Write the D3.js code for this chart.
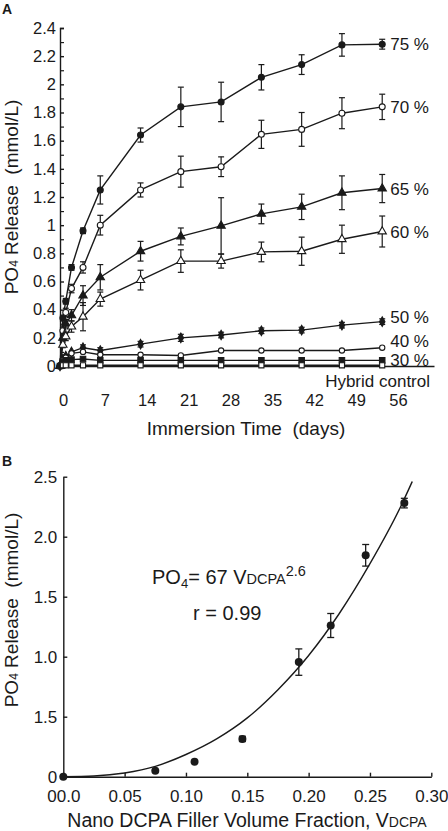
<!DOCTYPE html>
<html><head><meta charset="utf-8">
<script src="https://cdn.jsdelivr.net/npm/d3@7"></script>
<style>
body{margin:0;background:#fff}
text{font-family:"Liberation Sans",Arial,Helvetica,sans-serif;fill:#1a1a1a}
</style>
</head><body>
<svg id="c" width="448" height="831"></svg>
<script>
// ---------- Panel A data ----------
const days = [0, 0.5, 1, 2, 4, 7, 14, 21, 28, 35, 42, 49, 56];
const seriesNames = ["75 %", "70 %", "65 %", "60 %", "50 %", "40 %", "30 %", "Hybrid control"];
const v75 = [0, 0.34, 0.46, 0.70, 0.96, 1.25, 1.64, 1.84, 1.875, 2.05, 2.14, 2.28, 2.285];
const e75 = [0, 0.02, 0.02, 0.02, 0.02, 0.10, 0.05, 0.14, 0.14, 0.09, 0.07, 0.08, 0.035];
const v70 = [0, 0.25, 0.38, 0.55, 0.70, 1.00, 1.25, 1.38, 1.415, 1.645, 1.68, 1.795, 1.84];
const e70 = [0, 0.02, 0.03, 0.03, 0.04, 0.07, 0.05, 0.11, 0.07, 0.10, 0.12, 0.11, 0.09];
const v65 = [0, 0.20, 0.30, 0.36, 0.50, 0.63, 0.815, 0.92, 0.995, 1.08, 1.13, 1.23, 1.26];
const e65 = [0, 0.02, 0.03, 0.04, 0.07, 0.09, 0.07, 0.06, 0.20, 0.07, 0.09, 0.12, 0.10];
const v60 = [0, 0.15, 0.21, 0.28, 0.35, 0.475, 0.61, 0.745, 0.745, 0.81, 0.815, 0.90, 0.955];
const e60 = [0, 0.02, 0.03, 0.04, 0.10, 0.05, 0.07, 0.08, 0.05, 0.07, 0.10, 0.10, 0.11];
const v50 = [0, 0.05, 0.07, 0.10, 0.13, 0.11, 0.155, 0.20, 0.22, 0.25, 0.255, 0.29, 0.315];
const e50 = [0, 0.01, 0.01, 0.015, 0.02, 0.02, 0.02, 0.025, 0.02, 0.02, 0.02, 0.02, 0.02];
const v40 = [0, 0.04, 0.06, 0.09, 0.10, 0.08, 0.08, 0.075, 0.11, 0.11, 0.11, 0.11, 0.13];
const e40 = [0, 0.01, 0.01, 0.01, 0.01, 0.01, 0.01, 0.01, 0.01, 0.01, 0.01, 0.01, 0.01];
const v30 = [0, 0.03, 0.04, 0.045, 0.05, 0.04, 0.04, 0.04, 0.04, 0.04, 0.04, 0.04, 0.04];
const e30 = [0, 0.01, 0.01, 0.01, 0.01, 0.01, 0.01, 0.01, 0.01, 0.01, 0.01, 0.01, 0.01];
const vHC = [0, 0.005, 0.005, 0.005, 0.005, 0.005, 0.005, 0.005, 0.005, 0.005, 0.005, 0.005, 0.005];
const eHC = [0, 0, 0, 0, 0, 0, 0, 0, 0, 0, 0, 0, 0];
const labelValsA = [2.285, 1.84, 1.257, 0.954, 0.35, 0.18, 0.043, -0.11];
const yTickValsA = [0, 0.2, 0.4, 0.6, 0.8, 1, 1.2, 1.4, 1.6, 1.8, 2, 2.2, 2.4];
const yTickLabsA = ["0", "0.2", "0.4", "0.6", "0.8", "1", "1.2", "1.4", "1.6", "1.8", "2", "2.2", "2.4"];
const xTickValsA = [0, 7, 14, 21, 28, 35, 42, 49, 56];

// ---------- Panel B data ----------
const fracB = [0, 0.075, 0.107, 0.146, 0.192, 0.218, 0.2465, 0.278];
const relB = [0, 0.05, 0.125, 0.315, 0.955, 1.26, 1.845, 2.28];
const errB = [0, 0, 0, 0.022, 0.11, 0.10, 0.09, 0.04];
// fitted curve as drawn in the figure
const curveV = [0, 0.025, 0.05, 0.075, 0.10, 0.125, 0.15, 0.175, 0.20, 0.225, 0.25, 0.275, 0.2845];
const curveP = [0, 0.006, 0.031, 0.086, 0.185, 0.315, 0.49, 0.725, 1.01, 1.36, 1.775, 2.25, 2.46];
const yTickValsB = [0, 0.5, 1, 1.5, 2, 2.5];
const yTickLabsB = ["0", "1.5", "1.0", "1.5", "2.0", "2.5"];
const xTickValsB = [0, 0.05, 0.10, 0.15, 0.20, 0.25, 0.30];
const xTickLabsB = ["00.0", "0.05", "0.10", "0.15", "0.20", "0.25", "0.30"];

const svg = d3.select("#c");
const INK = "#1a1a1a";
const NB = "\u00a0";

// ================= PANEL A =================
const xA = d3.scaleLinear().domain([0, 65]).range([60, 434]);
const xLabA = d3.scaleLinear().domain([0, 56]).range([63, 398]);
const yA = d3.scaleLinear().domain([0, 2.4]).range([366, 28]);
const gA = svg.append("g");

svg.append("text").attr("x", 2).attr("y", 14).attr("font-weight", "bold")
  .attr("font-size", 14).text("A");

// y axis
const yAxA = gA.append("g").attr("transform", `translate(${xA(0)},0)`)
  .call(d3.axisLeft(yA).tickValues(yTickValsA).tickSize(-4).tickPadding(4)
    .tickFormat((d, i) => yTickLabsA[i]));
yAxA.selectAll("text").attr("font-size", 16.5).attr("font-family", null).attr("fill", INK);
yAxA.selectAll("line,path").attr("stroke", INK).attr("stroke-width", 1.4);
const minorA = d3.range(0.1, 2.4, 0.2);
gA.append("g").attr("transform", `translate(${xA(0)},0)`)
  .call(d3.axisLeft(yA).tickValues(minorA).tickSize(-4).tickFormat(""))
  .call(g => g.select(".domain").remove())
  .selectAll("line").attr("stroke", INK).attr("stroke-width", 1.2);

// x axis baseline
gA.append("g").attr("transform", `translate(0,${yA(0)})`)
  .call(d3.axisBottom(xA).tickValues([]).tickSizeOuter(0))
  .select(".domain").attr("stroke", INK).attr("stroke-width", 1.4);
// x tick labels
const xAxA = gA.append("g").attr("transform", `translate(0,${yA(0) + 28})`)
  .call(d3.axisBottom(xLabA).tickValues(xTickValsA).tickSize(0).tickPadding(0));
xAxA.select(".domain").remove();
xAxA.selectAll("text").attr("font-size", 16.5).attr("font-family", null).attr("fill", INK);

// titles
svg.append("text").attr("x", 246).attr("y", 435).attr("text-anchor", "middle")
  .attr("font-size", 19).text("Immersion Time" + NB + NB + "(days)");
const ytA = svg.append("text").attr("transform", "translate(18,197) rotate(-90)")
  .attr("text-anchor", "middle").attr("font-size", 19);
ytA.append("tspan").text("PO");
ytA.append("tspan").attr("font-size", 12).text("4");
ytA.append("tspan").text(NB + "Release" + NB + NB + "(mmol/L)");

// series
const seriesA = [
  {v: v75, e: e75, sym: d3.symbolCircle, size: 28, fill: true},
  {v: v70, e: e70, sym: d3.symbolCircle, size: 28, fill: false},
  {v: v65, e: e65, sym: d3.symbolTriangle, size: 30, fill: true},
  {v: v60, e: e60, sym: d3.symbolTriangle, size: 30, fill: false},
  {v: v50, e: e50, sym: d3.symbolDiamond, size: 26, fill: true},
  {v: v40, e: e40, sym: d3.symbolCircle, size: 22, fill: false},
  {v: v30, e: e30, sym: d3.symbolSquare, size: 30, fill: true},
  {v: vHC, e: eHC, sym: d3.symbolSquare, size: 26, fill: false}
];
const lineA = d3.line().x(d => xA(d.t)).y(d => yA(d.v));
seriesA.forEach((s, k) => {
  const pts = days.map((t, i) => ({t, v: s.v[i], e: s.e[i]}));
  gA.append("path").datum(pts).attr("d", lineA).attr("fill", "none")
    .attr("stroke", INK).attr("stroke-width", 1.4);
  const eb = gA.append("g");
  pts.filter(p => p.e > 0.015).forEach(p => {
    const x = xA(p.t), y1 = yA(p.v - p.e), y2 = yA(p.v + p.e);
    eb.append("line").attr("x1", x).attr("x2", x).attr("y1", y1).attr("y2", y2);
    eb.append("line").attr("x1", x - 3).attr("x2", x + 3).attr("y1", y1).attr("y2", y1);
    eb.append("line").attr("x1", x - 3).attr("x2", x + 3).attr("y1", y2).attr("y2", y2);
  });
  eb.selectAll("line").attr("stroke", INK).attr("stroke-width", 1.2);
  gA.append("g").selectAll("path").data(pts).join("path")
    .attr("transform", d => `translate(${xA(d.t)},${yA(d.v)})`)
    .attr("d", d3.symbol().type(s.sym).size(s.size))
    .attr("fill", (d, i) => (s.fill || i === 0) ? INK : "#fff")
    .attr("stroke", INK).attr("stroke-width", 1.1);
});
// right labels
seriesNames.forEach((n, i) => {
  const last = i === seriesNames.length - 1;
  svg.append("text")
    .attr("x", last ? xA(65) - 4 : xA(56) + 8)
    .attr("y", yA(labelValsA[i]))
    .attr("dy", "0.35em")
    .attr("text-anchor", last ? "end" : "start")
    .attr("font-size", 17).text(n);
});

// ================= PANEL B =================
const xB = d3.scaleLinear().domain([0, 0.30]).range([63.3, 431.3]);
const yB = d3.scaleLinear().domain([0, 2.5]).range([776.7, 476.7]);
const gB = svg.append("g");
svg.append("text").attr("x", 2).attr("y", 466).attr("font-weight", "bold")
  .attr("font-size", 14).text("B");

const yAxB = gB.append("g").attr("transform", `translate(${xB(0)},0)`)
  .call(d3.axisLeft(yB).tickValues(yTickValsB).tickSize(-4).tickPadding(6)
    .tickFormat((d, i) => yTickLabsB[i]).tickSizeOuter(0));
yAxB.selectAll("text").attr("font-size", 17).attr("font-family", null).attr("fill", INK);
yAxB.selectAll("line,path").attr("stroke", INK).attr("stroke-width", 1.4);

const xAxB = gB.append("g").attr("transform", `translate(0,${yB(0)})`)
  .call(d3.axisBottom(xB).tickValues(xTickValsB).tickSize(-4).tickPadding(13)
    .tickFormat((d, i) => xTickLabsB[i]).tickSizeOuter(0));
xAxB.selectAll("text").attr("font-size", 17).attr("font-family", null).attr("fill", INK);
xAxB.selectAll("line,path").attr("stroke", INK).attr("stroke-width", 1.4);

// fit curve
const fitPts = curveV.map((v, i) => ({x: v, y: curveP[i]}));
gB.append("path").datum(fitPts)
  .attr("d", d3.line().curve(d3.curveMonotoneX).x(d => xB(d.x)).y(d => yB(d.y)))
  .attr("fill", "none").attr("stroke", INK).attr("stroke-width", 1.4);

// error bars + points
fracB.forEach((f, i) => {
  if (errB[i] > 0) {
    const x = xB(f), y1 = yB(relB[i] - errB[i]), y2 = yB(relB[i] + errB[i]);
    [[x, x, y1, y2], [x - 3.5, x + 3.5, y1, y1], [x - 3.5, x + 3.5, y2, y2]].forEach(l =>
      gB.append("line").attr("x1", l[0]).attr("x2", l[1]).attr("y1", l[2]).attr("y2", l[3])
        .attr("stroke", INK).attr("stroke-width", 1.3));
  }
});
gB.append("g").selectAll("circle").data(fracB).join("circle")
  .attr("cx", d => xB(d)).attr("cy", (d, i) => yB(relB[i])).attr("r", 4)
  .attr("fill", INK);

// equation
const eq = svg.append("text").attr("x", 152).attr("y", 584).attr("font-size", 20);
eq.append("tspan").text("PO");
eq.append("tspan").attr("font-size", 13).attr("dy", 4).text("4");
eq.append("tspan").attr("dy", -4).text("= 67 V");
eq.append("tspan").attr("font-size", 14.5).text("DCPA");
eq.append("tspan").attr("font-size", 14.5).attr("dy", -8).text("2.6");
svg.append("text").attr("x", 193).attr("y", 620).attr("font-size", 20).text("r = 0.99");

// axis titles B
const xtB = svg.append("text").attr("x", 247).attr("y", 827).attr("text-anchor", "middle").attr("font-size", 19.5);
xtB.append("tspan").text("Nano DCPA Filler Volume Fraction, V");
xtB.append("tspan").attr("font-size", 14).text("DCPA");
const ytB = svg.append("text").attr("transform", "translate(18,610) rotate(-90)")
  .attr("text-anchor", "middle").attr("font-size", 19);
ytB.append("tspan").text("PO");
ytB.append("tspan").attr("font-size", 12).text("4");
ytB.append("tspan").text(NB + "Release" + NB + NB + "(mmol/L)");
</script>
</body></html>
